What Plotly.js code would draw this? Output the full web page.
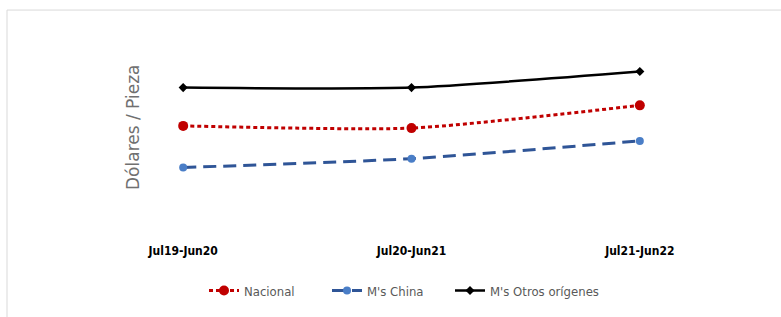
<!DOCTYPE html>
<html>
<head>
<meta charset="utf-8">
<script src="https://cdn.plot.ly/plotly-3.0.1.min.js"></script>
<style>html,body{margin:0;padding:0;background:#fff;}#chart{width:781px;height:317px;}</style>
</head>
<body>
<div id="chart"></div>
<script>
const categories = ["Jul19-Jun20", "Jul20-Jun21", "Jul21-Jun22"];
const nacional = [2.02, 1.98, 2.39];
const china = [1.27, 1.43, 1.75];
const otros = [2.71, 2.71, 3.0];
const seriesNames = ["Nacional", "M's China", "M's Otros orígenes"];
const yTitle = "Dólares / Pieza";

const condensed = "DejaVu Sans Condensed, Liberation Sans Narrow, sans-serif";

const traces = [
  {
    x: categories, y: nacional, name: seriesNames[0], type: "scatter", mode: "lines+markers",
    legend: "legend",
    line: {color: "#C00000", width: 3, dash: "4px,3px", shape: "spline", smoothing: 0.6},
    marker: {color: "#C00000", size: 10, symbol: "circle"}
  },
  {
    x: categories, y: china, name: seriesNames[1], type: "scatter", mode: "lines+markers",
    legend: "legend2",
    line: {color: "#2F5597", width: 3, dash: "13px,7px", shape: "spline", smoothing: 0.6},
    marker: {color: "#4A7EC7", size: 8, symbol: "circle"}
  },
  {
    x: categories, y: otros, name: seriesNames[2], type: "scatter", mode: "lines+markers",
    legend: "legend3",
    line: {color: "#000000", width: 2.5, shape: "spline", smoothing: 0.6},
    marker: {color: "#000000", size: 7, symbol: "diamond"}
  }
];

const legendFont = {family: condensed, size: 13, color: "#595959"};
function legendAt(px) {
  return {
    orientation: "h", x: (px - 69) / 685, xanchor: "left", y: -0.237, yanchor: "middle",
    font: legendFont, bgcolor: "rgba(0,0,0,0)"
  };
}

const layout = {
  width: 781, height: 317,
  margin: {l: 69, r: 27, t: 16, b: 77},
  paper_bgcolor: "#ffffff", plot_bgcolor: "#ffffff",
  showlegend: true,
  legend: legendAt(204),
  legend2: legendAt(327),
  legend3: legendAt(450),
  xaxis: {
    type: "category", range: [-0.5, 2.5],
    showgrid: false, zeroline: false, showline: false, ticks: "",
    tickfont: {family: condensed, size: 12, color: "#000000", weight: "bold"},
    ticklabelstandoff: 4
  },
  yaxis: {
    range: [0, 4], showgrid: false, zeroline: false, showline: false,
    showticklabels: false, ticks: ""
  },
  annotations: [{
    text: yTitle, xref: "paper", yref: "paper", x: (133 - 69) / 685, y: 0.5,
    xanchor: "center", yanchor: "middle", textangle: -90, showarrow: false,
    font: {family: "DejaVu Sans, sans-serif", size: 17, color: "#707070"}
  }],
  shapes: [{
    type: "rect", xref: "paper", yref: "paper",
    x0: (7 - 69) / 685, x1: 1.2, y0: -0.6, y1: (240 - 10) / 224,
    line: {color: "#D9D9D9", width: 1}, fillcolor: "rgba(0,0,0,0)", layer: "below"
  }]
};

Plotly.newPlot("chart", traces, layout, {displayModeBar: false, staticPlot: true});
</script>
</body>
</html>
